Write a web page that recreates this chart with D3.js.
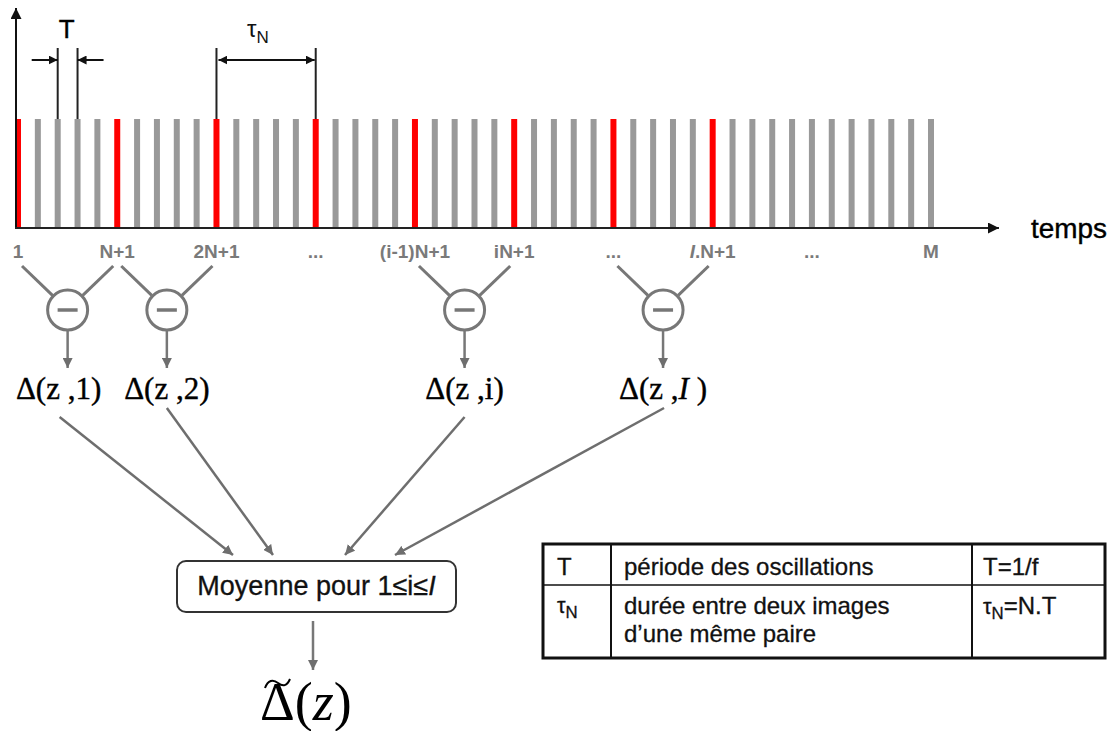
<!DOCTYPE html>
<html>
<head>
<meta charset="utf-8">
<script src="https://cdn.jsdelivr.net/npm/d3@7"></script>
<style>
  html, body { margin: 0; padding: 0; background: #fff; }
  svg { display: block; }
</style>
</head>
<body>
<svg id="chart" width="1110" height="731"></svg>
<script>
// ---------- data ----------
const barCount = 47;                       // images 1 .. M
const redBars = [0, 5, 10, 15, 20, 25, 30, 35]; // first image of each pair (N = 5)
const tickIndex = [0, 5, 10, 15, 20, 25, 30, 35, 40, 46];
const tickLabels = ["1", "N+1", "2N+1", "...", "(i-1)N+1", "iN+1", "...", "I.N+1", "...", "M"];
const pairs = [[0, 5], [5, 10], [20, 25], [30, 35]];
const pairLabels = ["1", "2", "i", "I"];
const periodBars = [2, 3];   // T annotation
const tauBars = [10, 15];    // tau_N annotation
const tableRows = [
  { sym: "T", desc: ["période des oscillations"], formula: "T=1/f" },
  { sym: "τN", desc: ["durée entre deux images", "d’une même paire"], formula: "τN=N.T" }
];

// ---------- setup ----------
const svg = d3.select("#chart");
const x = d3.scaleLinear().domain([0, barCount - 1]).range([18, 931]);
const y = d3.scaleLinear().domain([0, 1]).range([228, 119]);
const grey = "#777";
const sans = "Liberation Sans, Arial, sans-serif";
const serif = "Liberation Serif, Times New Roman, serif";

const defs = svg.append("defs");
function marker(id, color, w, h) {
  defs.append("marker").attr("id", id).attr("viewBox", "0 0 10 10")
    .attr("refX", 10).attr("refY", 5).attr("markerWidth", w).attr("markerHeight", h)
    .attr("markerUnits", "userSpaceOnUse").attr("orient", "auto-start-reverse")
    .append("path").attr("d", "M0,0 L10,5 L0,10 Z").attr("fill", color);
}
marker("ahBlack", "#111", 11, 11);
marker("ahSmall", "#111", 9, 9);
marker("ahGrey", "#6e6e6e", 10, 10);

// ---------- bars ----------
svg.append("g").selectAll("rect").data(d3.range(barCount)).join("rect")
  .attr("x", d => x(d) - 3).attr("width", 6)
  .attr("y", y(1)).attr("height", y(0) - y(1))
  .attr("fill", d => redBars.includes(d) ? "#ff0000" : "#999999");

// axes
svg.append("line").attr("x1", 16).attr("y1", y(0)).attr("x2", 16).attr("y2", 8)
  .attr("stroke", "#111").attr("stroke-width", 2).attr("marker-end", "url(#ahBlack)");
svg.append("line").attr("x1", 15).attr("y1", y(0)).attr("x2", 999).attr("y2", y(0))
  .attr("stroke", "#222").attr("stroke-width", 2).attr("marker-end", "url(#ahBlack)");
svg.append("text").attr("x", 1031).attr("y", 238).text("temps")
  .attr("font-family", sans).attr("font-size", 27).attr("fill", "#000")
  .attr("stroke", "#000").attr("stroke-width", 0.4)
  .attr("textLength", 76).attr("lengthAdjust", "spacingAndGlyphs");

// tick labels
svg.append("g").selectAll("text").data(tickIndex).join("text")
  .attr("x", d => x(d)).attr("y", 258).attr("text-anchor", "middle")
  .attr("font-family", sans).attr("font-size", 19)
  .attr("font-weight", "bold").attr("fill", "#7a7a7a")
  .each(function (d, i) {
    const t = d3.select(this), lab = tickLabels[i];
    if (lab.startsWith("I.")) {
      t.append("tspan").attr("font-style", "italic").text("I");
      t.append("tspan").text(lab.slice(1));
    } else t.text(lab);
  });

// ---------- T and tau annotations ----------
function dim(bars, inside) {
  const a = x(bars[0]), b = x(bars[1]);
  [a, b].forEach(v => svg.append("line").attr("x1", v).attr("x2", v).attr("y1", 48).attr("y2", y(1))
    .attr("stroke", "#222").attr("stroke-width", 2));
  if (inside) {
    svg.append("line").attr("x1", a + 2).attr("x2", b - 1).attr("y1", 60).attr("y2", 60)
      .attr("stroke", "#111").attr("stroke-width", 2)
      .attr("marker-start", "url(#ahSmall)").attr("marker-end", "url(#ahSmall)");
  } else {
    svg.append("line").attr("x1", a - 26).attr("x2", a).attr("y1", 60).attr("y2", 60)
      .attr("stroke", "#111").attr("stroke-width", 2).attr("marker-end", "url(#ahSmall)");
    svg.append("line").attr("x1", b + 26).attr("x2", b).attr("y1", 60).attr("y2", 60)
      .attr("stroke", "#111").attr("stroke-width", 2).attr("marker-end", "url(#ahSmall)");
  }
}
dim(periodBars, false);
dim(tauBars, true);
svg.append("text").attr("x", (x(periodBars[0]) + x(periodBars[1])) / 2 - 1).attr("y", 38)
  .attr("text-anchor", "middle").attr("font-family", sans)
  .attr("font-size", 26).attr("fill", "#000").attr("stroke", "#000").attr("stroke-width", 0.4).text("T");
const tauT = svg.append("text").attr("x", 247).attr("y", 37)
  .attr("font-family", sans).attr("font-size", 24).attr("fill", "#111");
tauT.append("tspan").text("τ");
tauT.append("tspan").attr("font-size", 17).attr("dy", 6).text("N");

// ---------- subtraction nodes ----------
const cy = 310, r = 20;
const nodes = svg.append("g");
pairs.forEach((p, i) => {
  const cx = (x(p[0]) + x(p[1])) / 2;
  const g = nodes.append("g");
  [x(p[0]) + 4, x(p[1]) - 4].forEach(sx => {
    const sy = 266;
    const dx = cx - sx, dy = cy - sy, L = Math.hypot(dx, dy);
    g.append("line").attr("x1", sx).attr("y1", sy)
      .attr("x2", cx - dx / L * (r + 1)).attr("y2", cy - dy / L * (r + 1))
      .attr("stroke", grey).attr("stroke-width", 3);
  });
  g.append("circle").attr("cx", cx).attr("cy", cy).attr("r", r)
    .attr("fill", "#fff").attr("stroke", grey).attr("stroke-width", 3);
  g.append("line").attr("x1", cx - 10).attr("x2", cx + 10).attr("y1", cy).attr("y2", cy)
    .attr("stroke", grey).attr("stroke-width", 3.5);
  g.append("line").attr("x1", cx).attr("x2", cx).attr("y1", cy + r + 1).attr("y2", 368)
    .attr("stroke", grey).attr("stroke-width", 2.5).attr("marker-end", "url(#ahGrey)");
  const lx = i === 0 ? cx - 9 : cx;
  const t = g.append("text").attr("x", lx).attr("y", 399).attr("text-anchor", "middle")
    .attr("font-family", serif).attr("font-size", 31).attr("fill", "#000")
    .attr("stroke", "#000").attr("stroke-width", 0.4);
  t.append("tspan").text("Δ(z ,");
  const lab = pairLabels[i];
  t.append("tspan").attr("font-style", lab === "I" ? "italic" : "normal").text(lab);
  t.append("tspan").text(lab === "I" ? " )" : ")");
});

// ---------- arrows to average box ----------
const boxX = 177, boxY = 561, boxW = 279, boxH = 51;
const fromPts = pairs.map((p, i) => {
  const cx = (x(p[0]) + x(p[1])) / 2;
  return [cx + [-8, 0, 0, 1][i], [417, 408, 417, 408][i]];
});
const toX = [233, 273, 345, 395];
svg.append("g").selectAll("line").data(fromPts).join("line")
  .attr("x1", d => d[0]).attr("y1", d => d[1])
  .attr("x2", (d, i) => toX[i]).attr("y2", 555)
  .attr("stroke", "#6e6e6e").attr("stroke-width", 2.5).attr("marker-end", "url(#ahGrey)");

svg.append("rect").attr("x", boxX).attr("y", boxY).attr("width", boxW).attr("height", boxH)
  .attr("rx", 9).attr("fill", "#fff").attr("stroke", "#333").attr("stroke-width", 2);
const bt = svg.append("text").attr("x", boxX + boxW / 2).attr("y", 595).attr("text-anchor", "middle")
  .attr("font-family", sans).attr("font-size", 27).attr("fill", "#111")
  .attr("stroke", "#111").attr("stroke-width", 0.3);
bt.append("tspan").text("Moyenne pour 1≤i≤");
bt.append("tspan").attr("font-style", "italic").text("I");

svg.append("line").attr("x1", 313).attr("x2", 313).attr("y1", 621).attr("y2", 670)
  .attr("stroke", grey).attr("stroke-width", 2.5).attr("marker-end", "url(#ahGrey)");

// final Delta tilde
const ft = svg.append("text").attr("x", 260).attr("y", 720)
  .attr("font-family", serif).attr("font-size", 54).attr("fill", "#000");
ft.append("tspan").text("Δ(");
ft.append("tspan").attr("font-style", "italic").text("z");
ft.append("tspan").text(")");
svg.append("path").attr("d", "M265,688 C268,680 273,679 278,683 C283,687 287,686 290,679")
  .attr("fill", "none").attr("stroke", "#000").attr("stroke-width", 2);

// ---------- table ----------
const tX0 = 543, tX1 = 1105, tY0 = 544, tY1 = 658, rowDiv = 585;
const colDiv = [611, 972];
const tg = svg.append("g");
tg.append("rect").attr("x", tX0).attr("y", tY0).attr("width", tX1 - tX0).attr("height", tY1 - tY0)
  .attr("fill", "#fff").attr("stroke", "#111").attr("stroke-width", 3);
colDiv.forEach(c => tg.append("line").attr("x1", c).attr("x2", c).attr("y1", tY0).attr("y2", tY1)
  .attr("stroke", "#111").attr("stroke-width", 2));
tg.append("line").attr("x1", tX0).attr("x2", tX1).attr("y1", rowDiv).attr("y2", rowDiv)
  .attr("stroke", "#111").attr("stroke-width", 1.5);

function symText(str, xPos, yPos, size) {
  const t = tg.append("text").attr("x", xPos).attr("y", yPos).attr("font-family", sans)
    .attr("font-size", size).attr("fill", "#111").attr("stroke", "#111").attr("stroke-width", 0.3);
  if (str.startsWith("τN")) {
    t.append("tspan").attr("font-size", size * 0.9).text("τ");
    t.append("tspan").attr("font-size", size * 0.7).attr("dy", 5).text("N");
    t.append("tspan").attr("dy", -5).text(str.slice(2));
  } else t.text(str);
  return t;
}
const rowBase = [[575], [614, 642]];
tableRows.forEach((row, i) => {
  symText(row.sym, 557, i === 0 ? 575 : 613, i === 0 ? 24 : 24);
  row.desc.forEach((line, j) => {
    tg.append("text").attr("x", 624).attr("y", rowBase[i][j]).attr("font-family", sans)
      .attr("font-size", 24).attr("fill", "#111").attr("stroke", "#111").attr("stroke-width", 0.3).text(line);
  });
  symText(row.formula, 983, i === 0 ? 575 : 614, 24);
});
</script>
</body>
</html>
